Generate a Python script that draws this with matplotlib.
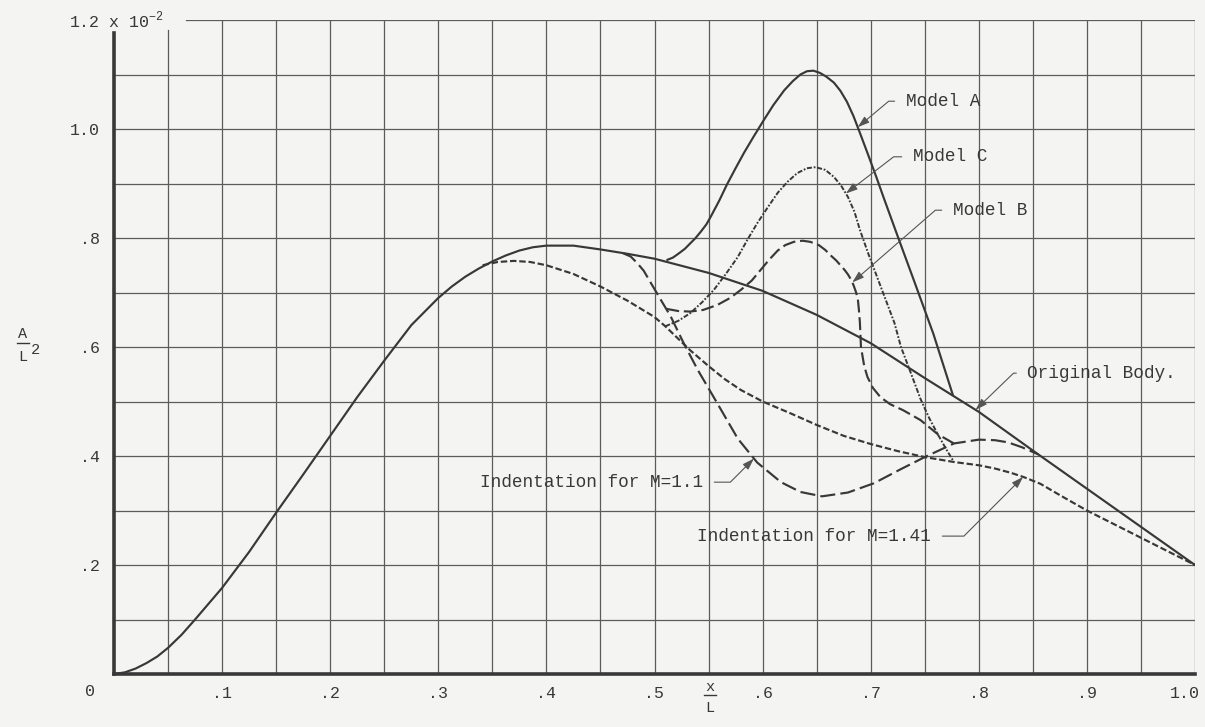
import numpy as np
import matplotlib
matplotlib.use("Agg")
import matplotlib.pyplot as plt
from matplotlib.lines import Line2D
from matplotlib.transforms import ScaledTranslation

# ---------------- data (A/L^2 in units of 1e-2 versus x/L) ----------------
original_x = [0.0, 0.01, 0.02, 0.03, 0.04, 0.05, 0.0625, 0.075, 0.0875, 0.1, 0.125, 0.15, 0.175,
              0.2, 0.225, 0.25, 0.275, 0.3, 0.3125, 0.325, 0.3375, 0.35, 0.3625, 0.375, 0.3875,
              0.4, 0.425, 0.45, 0.475, 0.5, 0.55, 0.6, 0.65, 0.7, 0.75, 0.8, 0.85, 0.9, 0.95, 1.0]
original_y = [0.0, 0.003, 0.010, 0.020, 0.032, 0.048, 0.072, 0.100, 0.129, 0.158, 0.224, 0.296, 0.366,
              0.437, 0.508, 0.575, 0.640, 0.690, 0.711, 0.729, 0.744, 0.757, 0.768, 0.777, 0.783,
              0.786, 0.786, 0.779, 0.771, 0.762, 0.736, 0.703, 0.659, 0.607, 0.543, 0.481, 0.410,
              0.340, 0.270, 0.200]

m141_x = [0.341, 0.355, 0.37, 0.385, 0.4, 0.425, 0.45, 0.475, 0.5, 0.51, 0.533, 0.55, 0.565,
          0.58, 0.6, 0.625, 0.65, 0.675, 0.7, 0.725, 0.75, 0.777, 0.8, 0.815, 0.83, 0.842, 0.857,
          0.876, 0.9, 0.95, 1.0]
m141_y = [0.750, 0.756, 0.758, 0.756, 0.750, 0.734, 0.711, 0.685, 0.655, 0.638, 0.594, 0.565, 0.541,
          0.521, 0.500, 0.479, 0.457, 0.437, 0.422, 0.409, 0.398, 0.389, 0.383, 0.377, 0.369, 0.361,
          0.349, 0.327, 0.300, 0.250, 0.200]

m11_x = [0.471, 0.478, 0.484, 0.490, 0.495, 0.506, 0.515, 0.527, 0.540, 0.558, 0.577, 0.595, 0.617,
         0.635, 0.655, 0.679, 0.703, 0.728, 0.75, 0.777, 0.80, 0.815, 0.827, 0.840, 0.855]
m11_y = [0.772, 0.766, 0.754, 0.740, 0.723, 0.686, 0.656, 0.607, 0.558, 0.497, 0.432, 0.388, 0.352,
         0.334, 0.326, 0.333, 0.350, 0.376, 0.398, 0.423, 0.430, 0.429, 0.425, 0.416, 0.403]

modelA_x = [0.512, 0.517, 0.522, 0.528, 0.533, 0.538, 0.543, 0.548, 0.552, 0.556, 0.560, 0.567,
            0.575, 0.583, 0.592, 0.601, 0.610, 0.620, 0.628, 0.635, 0.641, 0.647, 0.653, 0.659,
            0.666, 0.672, 0.678, 0.684, 0.690, 0.697, 0.705, 0.712, 0.725, 0.740, 0.758, 0.776]
modelA_y = [0.760, 0.764, 0.771, 0.780, 0.790, 0.800, 0.812, 0.825, 0.839, 0.854, 0.869, 0.898,
            0.928, 0.957, 0.987, 1.016, 1.044, 1.071, 1.088, 1.100, 1.106, 1.107, 1.103, 1.096,
            1.085, 1.070, 1.050, 1.024, 0.993, 0.956, 0.913, 0.874, 0.803, 0.722, 0.624, 0.512]

modelB_x = [0.511, 0.522, 0.533, 0.545, 0.558, 0.57, 0.58, 0.59, 0.598, 0.606, 0.614, 0.621,
            0.629, 0.637, 0.644, 0.652, 0.658, 0.663, 0.668, 0.672, 0.676, 0.679, 0.682, 0.684,
            0.686, 0.688, 0.689, 0.690, 0.691, 0.694, 0.697, 0.702, 0.709, 0.718, 0.730, 0.746,
            0.762, 0.777]
modelB_y = [0.670, 0.666, 0.665, 0.668, 0.677, 0.690, 0.705, 0.722, 0.741, 0.760, 0.777, 0.787,
            0.793, 0.795, 0.793, 0.787, 0.778, 0.768, 0.759, 0.750, 0.741, 0.733, 0.723, 0.714,
            0.703, 0.690, 0.670, 0.645, 0.600, 0.565, 0.545, 0.525, 0.508, 0.495, 0.484, 0.466,
            0.440, 0.423]

modelC_x = [0.510, 0.522, 0.533, 0.544, 0.555, 0.566, 0.577, 0.586, 0.595, 0.605, 0.614, 0.623,
            0.632, 0.641, 0.649, 0.658, 0.666, 0.673, 0.679, 0.685, 0.690, 0.698, 0.706, 0.714,
            0.722, 0.728, 0.737, 0.746, 0.754, 0.762, 0.770, 0.777]
modelC_y = [0.638, 0.648, 0.662, 0.682, 0.705, 0.734, 0.765, 0.797, 0.827, 0.857, 0.883, 0.903,
            0.919, 0.928, 0.930, 0.925, 0.912, 0.895, 0.875, 0.848, 0.815, 0.770, 0.728, 0.686,
            0.644, 0.600, 0.553, 0.505, 0.470, 0.440, 0.412, 0.389]

xtick_values = [0.1, 0.2, 0.3, 0.4, 0.5, 0.6, 0.7, 0.8, 0.9, 1.0]
xtick_labels = ['.1', '.2', '.3', '.4', '.5', '.6', '.7', '.8', '.9', '1.0']
ytick_values = [0.2, 0.4, 0.6, 0.8, 1.0]
ytick_labels = ['.2', '.4', '.6', '.8', '1.0']

# ---------------- style ----------------
BG = '#f4f4f2'
INK = '#383838'
GRID = '#5c5c5c'
FONT = 'Liberation Mono'
plt.rcParams['font.family'] = [FONT, 'DejaVu Sans']
plt.rcParams['mathtext.fontset'] = 'custom'
plt.rcParams['mathtext.rm'] = FONT

W, H = 1205, 727
fig = plt.figure(figsize=(W / 100, H / 100), dpi=100, facecolor=BG)
ax = fig.add_axes([114 / W, 53 / H, 1081 / W, 654 / H])
ax.set_facecolor(BG)
ax.set_xlim(0, 1.0)
ax.set_ylim(0, 1.2)

# grid
for xv in np.arange(0.05, 1.0001, 0.05):
    top = 0.984 if abs(xv - 0.05) < 1e-6 else 1.0
    ax.axvline(xv, ymax=top, color=GRID, lw=0.9, zorder=1)
for yv in np.arange(0.1, 1.2001, 0.1):
    left = 0.067 if abs(yv - 1.2) < 1e-6 else 0.0
    ax.axhline(yv, xmin=left, color=GRID, lw=0.9, zorder=1)

for s in ['top', 'right']:
    ax.spines[s].set_visible(False)
ax.spines['left'].set_linewidth(2.6)
ax.spines['left'].set_color(INK)
ax.spines['left'].set_bounds(0, 1.177)
ax.spines['bottom'].set_linewidth(2.6)
ax.spines['bottom'].set_color(INK)

ax.set_xticks(xtick_values)
ax.set_xticklabels(xtick_labels)
ax.set_yticks(ytick_values)
ax.set_yticklabels(ytick_labels)
ax.tick_params(axis='both', length=0, labelsize=12, labelcolor=INK)
ax.tick_params(axis='x', pad=9)
ax.tick_params(axis='y', pad=10)
last = ax.get_xticklabels()[-1]
last.set_transform(last.get_transform() + ScaledTranslation(-10 / 100, 0, fig.dpi_scale_trans))

ax.annotate('0', xy=(0, 0), xytext=(-24, -18), textcoords='offset pixels',
            ha='center', va='center', fontsize=12, color=INK, annotation_clip=False)
ax.annotate('1.2 x 10$^{-2}$', xy=(0, 1.2), xytext=(-45, 0), textcoords='offset pixels',
            ha='left', va='center', fontsize=12, color=INK, annotation_clip=False)

# curves
lw = 1.55
ax.plot(original_x, original_y, color=INK, lw=lw, zorder=3, solid_capstyle='round')
ax.plot(modelA_x, modelA_y, color=INK, lw=lw, zorder=3)
ax.plot(m141_x, m141_y, color=INK, lw=lw, ls=(0, (3, 1.3)), zorder=3)
ax.plot(modelC_x, modelC_y, color=INK, lw=1.4, ls=(0, (2.6, 0.9, 0.9, 0.9)), zorder=3)
ax.plot(m11_x, m11_y, color=INK, lw=lw, ls=(0, (7, 2.4)), zorder=3)
ax.plot(modelB_x, modelB_y, color=INK, lw=lw, ls=(0, (6, 2.2)), zorder=3)

# annotations with leader lines
def leader(text, tx, ty, tip_x, sx, sy, angle, side):
    tip_y = float(np.interp(tip_x, sx, sy))
    ha = 'left' if side == 'left' else 'right'
    rel = (0.0, 0.5) if side == 'left' else (1.0, 0.5)
    ax.annotate(text, xy=(tip_x, tip_y), xytext=(tx, ty), ha=ha, va='center',
                fontsize=12.8, color=INK, zorder=5,
                arrowprops=dict(arrowstyle='-|>,head_length=0.55,head_width=0.18',
                                connectionstyle=f'angle,angleA=0,angleB={angle},rad=0',
                                relpos=rel, shrinkA=6, shrinkB=0, color='#555555', lw=0.8))

leader('Model A', 0.7324, 1.051, 0.688, modelA_x, modelA_y, 40, 'left')
leader('Model C', 0.739, 0.949, 0.677, modelC_x, modelC_y, 37.5, 'left')
leader('Model B', 0.776, 0.851, 0.683, modelB_x, modelB_y, 41, 'left')
leader('Original Body.', 0.845, 0.552, 0.797, original_x, original_y, 44, 'left')
leader('Indentation for M=1.1', 0.545, 0.352, 0.592, m11_x, m11_y, 45, 'right')
leader('Indentation for M=1.41', 0.756, 0.253, 0.841, m141_x, m141_y, 45, 'right')

# axis labels (stacked fractions)
def px(x, y):
    return x / W, 1 - y / H

fig.text(*px(23, 334), 'A', ha='center', va='center', fontsize=11, color=INK)
fig.add_artist(Line2D([17 / W, 29 / W], [1 - 343 / H] * 2, color=INK, lw=1.0))
fig.text(*px(23, 357), 'L', ha='center', va='center', fontsize=11, color=INK)
fig.text(*px(35, 350), '2', ha='center', va='center', fontsize=11, color=INK)

fig.text(*px(710, 687), 'x', ha='center', va='center', fontsize=11, color=INK)
fig.add_artist(Line2D([704 / W, 716 / W], [1 - 695 / H] * 2, color=INK, lw=1.0))
fig.text(*px(710, 708), 'L', ha='center', va='center', fontsize=11, color=INK)

fig.savefig('out.png', dpi=100, facecolor=BG)
